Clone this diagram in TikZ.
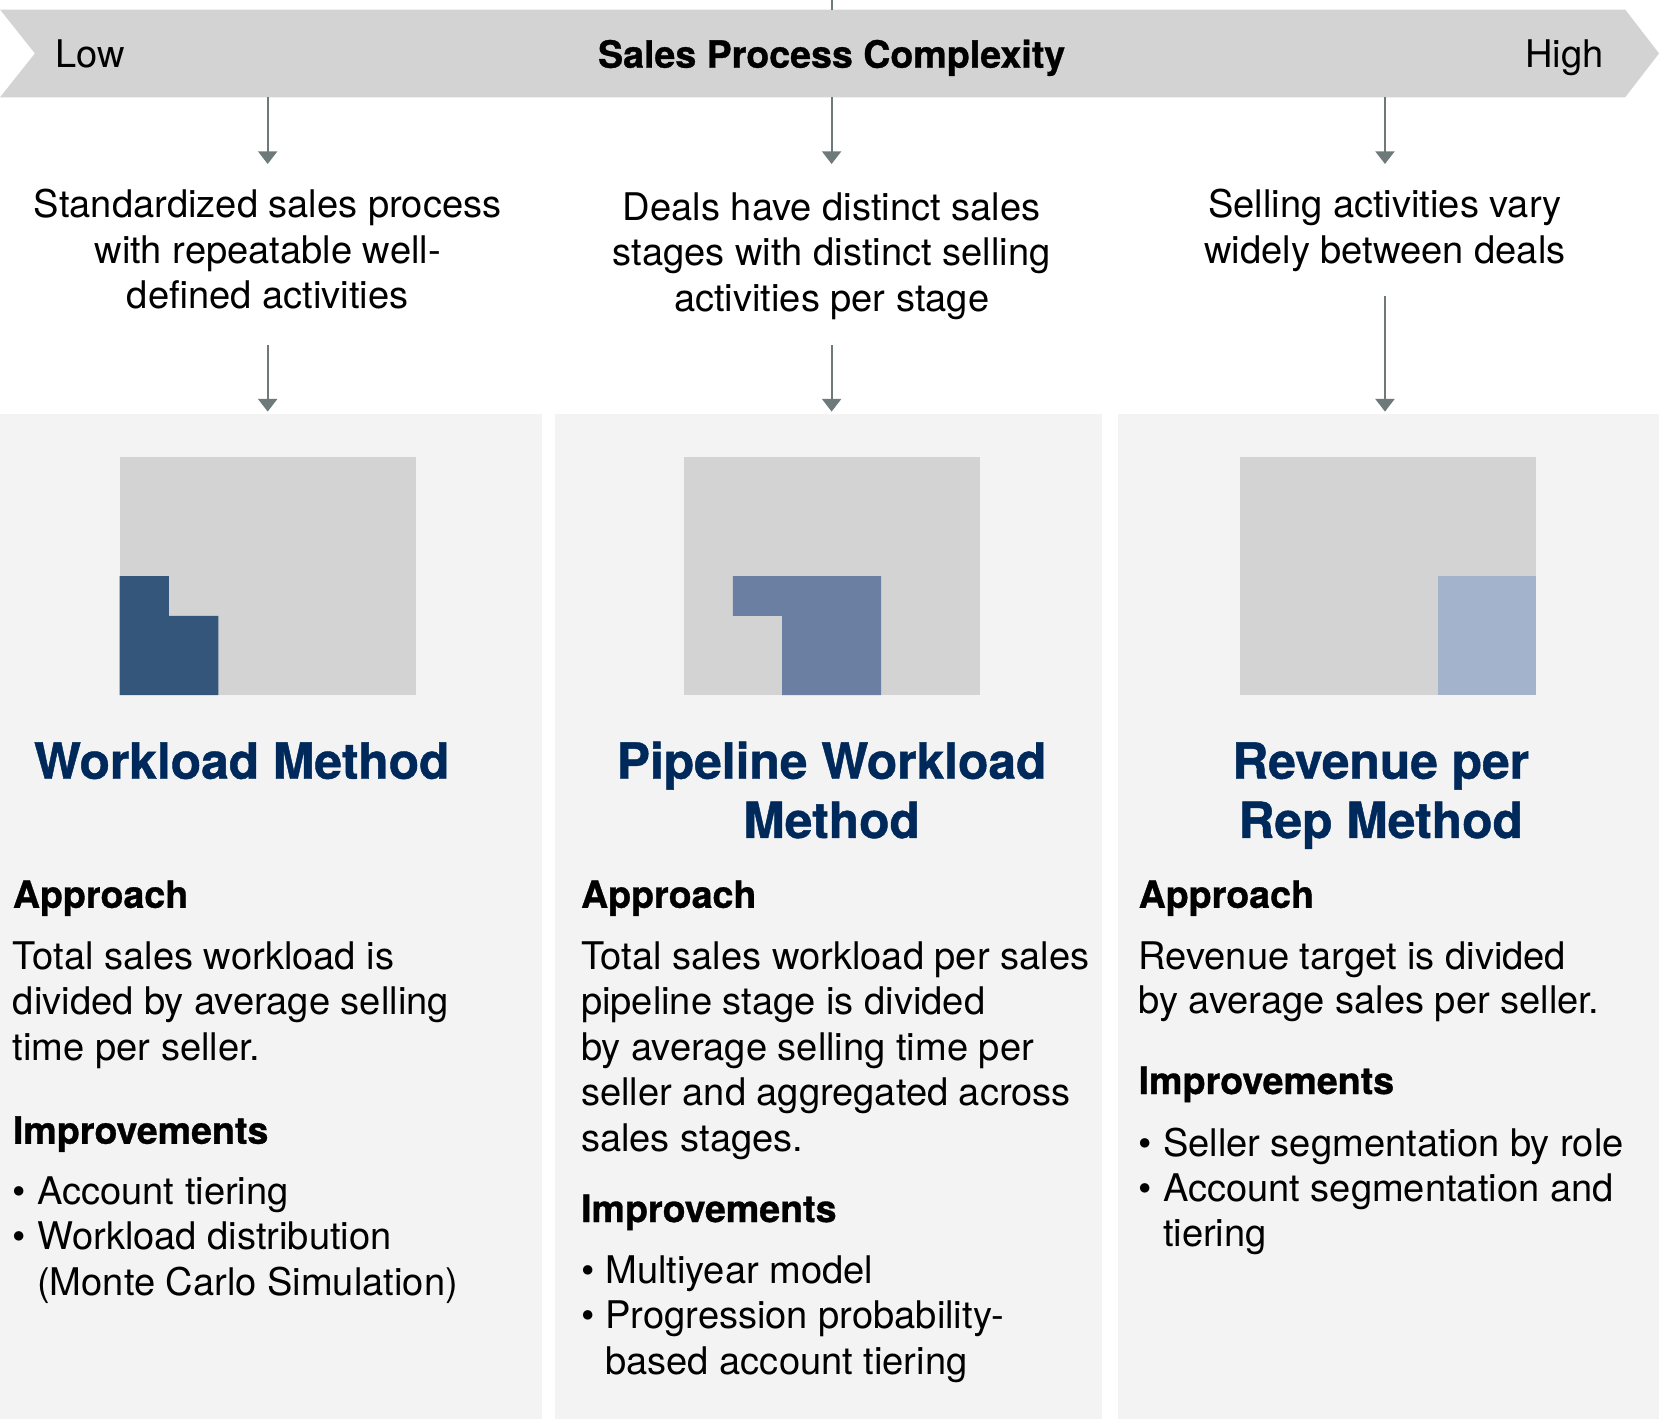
\documentclass[tikz,border=0pt]{standalone}
\usepackage{fontspec}
\setmainfont{TeX Gyre Heros}
\newfontfamily\heavyfont{texgyreheros-bold.otf}[FakeBold=0.9]
\usetikzlibrary{arrows.meta}

\definecolor{bandgray}{HTML}{D3D3D3}
\definecolor{panelgray}{HTML}{F3F3F3}
\definecolor{arrowgray}{HTML}{6E7A7A}
\definecolor{blueA}{HTML}{34567A}
\definecolor{blueB}{HTML}{6B7FA2}
\definecolor{blueC}{HTML}{A2B3CB}
\definecolor{navy}{HTML}{00295B}

\tikzset{
  body/.style={inner sep=0pt, font=\fontsize{36}{43}\selectfont, text=black},
  bodyL/.style={body, anchor=base west},
  bodyC/.style={body, anchor=base},
  headL/.style={inner sep=0pt, anchor=base west, font=\fontsize{35.5}{43}\selectfont\heavyfont},
  titleC/.style={inner sep=0pt, anchor=base, font=\fontsize{47}{56}\selectfont\heavyfont, text=navy},
  flow/.style={draw=arrowgray, line width=2pt, -{Triangle[width=18pt,length=12pt]}},
  panel/.style={fill=panelgray, draw=none},
  icongray/.style={fill=bandgray, draw=none},
}

\begin{document}
\begin{tikzpicture}[x=1pt, y=-1pt]
\useasboundingbox (0,0) rectangle (1568,1341);
\fill[white] (0,0) rectangle (1568,1341);

% complexity band
\fill[bandgray] (0,9) -- (1536,9) -- (1568,50.5) -- (1536,92) -- (0,92) -- (33,50.5) -- cycle;
\coordinate (tickTop) at (786,0);
\coordinate (tickBot) at (786,9);
\draw[arrowgray, line width=2pt] (tickTop) -- (tickBot);
\node[bodyL] (low) at (52,64) {Low};
\node[inner sep=0pt, anchor=base, font=\fontsize{35.5}{43}\selectfont\heavyfont] (axis) at (786,64) {Sales Process Complexity};
\node[body, anchor=base east] (high) at (1516,64) {High};

% column panels
\fill[panel] (0,391) rectangle (512,1341);
\fill[panel] (525,391) rectangle (1042,1341);
\fill[panel] (1057,391) rectangle (1568,1341);

% arrows from the band to the descriptions
\foreach \x/\n in {253/1, 786/2, 1309/3} {
  \coordinate (bandOut\n) at (\x,92);
  \coordinate (descIn\n) at (\x,155);
  \draw[flow] (bandOut\n) -- (descIn\n);
}

% process descriptions
\foreach \t [count=\i] in {{Standardized sales process},{with repeatable well-},{defined activities}}
  \node[bodyC] (dA\i) at (253,{206+43*(\i-1)}) {\t};
\foreach \t [count=\i] in {{Deals have distinct sales},{stages with distinct selling},{activities per stage}}
  \node[bodyC] (dB\i) at (786,{208+43*(\i-1)}) {\t};
\foreach \t [count=\i] in {{Selling activities vary},{widely between deals}}
  \node[bodyC] (dC\i) at (1309,{206+43*(\i-1)}) {\t};

% arrows from the descriptions to the panels
\coordinate (descOut1) at (253,326);
\coordinate (descOut2) at (786,326);
\coordinate (descOut3) at (1309,280);
\coordinate (panelIn1) at (253,389);
\coordinate (panelIn2) at (786,389);
\coordinate (panelIn3) at (1309,389);
\foreach \n in {1,2,3} \draw[flow] (descOut\n) -- (panelIn\n);

% icons: 6x6 grid, cell 46.67 x 37.5
\fill[icongray] (113,432) rectangle (393,657);
\fill[blueA] (113,544.5) -- (159.7,544.5) -- (159.7,582) -- (206.3,582) -- (206.3,657) -- (113,657) -- cycle;

\fill[icongray] (646,432) rectangle (926,657);
\fill[blueB] (692.7,544.5) -- (832.7,544.5) -- (832.7,657) -- (739.3,657) -- (739.3,582) -- (692.7,582) -- cycle;

\fill[icongray] (1172,432) rectangle (1452,657);
\fill[blueC] (1358.7,544.5) rectangle (1452,657);

% method titles
\node[titleC] (tA1) at (228.5,736) {Workload Method};
\node[titleC] (tB1) at (786,736) {Pipeline Workload};
\node[titleC] (tB2) at (786,792) {Method};
\node[titleC] (tC1) at (1305,736) {Revenue per};
\node[titleC] (tC2) at (1305,792) {Rep Method};

% column 1
\node[headL] (aA) at (12,858) {Approach};
\foreach \t [count=\i] in {{Total sales workload is},{divided by average selling},{time per seller.}}
  \node[bodyL] (bA\i) at (12,{916+43*(\i-1)}) {\t};
\node[headL] (iA) at (12,1081) {Improvements};
\node[bodyL] (uA1) at (12,1138) {•};
\node[bodyL] (lA1) at (35,1138) {Account tiering};
\node[bodyL] (uA2) at (12,1181) {•};
\node[bodyL] (lA2) at (35,1181) {Workload distribution};
\node[bodyL] (lA3) at (35,1224) {(Monte Carlo Simulation)};

% column 2
\node[headL] (aB) at (549,858) {Approach};
\foreach \t [count=\i] in {{Total sales workload per sales},{pipeline stage is divided},{by average selling time per},{seller and aggregated across},{sales stages.}}
  \node[bodyL] (bB\i) at (549,{916+43*(\i-1)}) {\t};
\node[headL] (iB) at (549,1155) {Improvements};
\node[bodyL] (uB1) at (549,1213) {•};
\node[bodyL] (lB1) at (572,1213) {Multiyear model};
\node[bodyL] (uB2) at (549,1256) {•};
\node[bodyL] (lB2) at (572,1256) {Progression probability-};
\node[bodyL] (lB3) at (572,1299) {based account tiering};

% column 3
\node[headL] (aC) at (1076,858) {Approach};
\foreach \t [count=\i] in {{Revenue target is divided},{by average sales per seller.}}
  \node[bodyL] (bC\i) at (1076,{916+42*(\i-1)}) {\t};
\node[headL] (iC) at (1076,1034) {Improvements};
\node[bodyL] (uC1) at (1076,1093) {•};
\node[bodyL] (lC1) at (1099,1093) {Seller segmentation by role};
\node[bodyL] (uC2) at (1076,1136) {•};
\node[bodyL] (lC2) at (1099,1136) {Account segmentation and};
\node[bodyL] (lC3) at (1099,1178) {tiering};
\end{tikzpicture}
\end{document}
